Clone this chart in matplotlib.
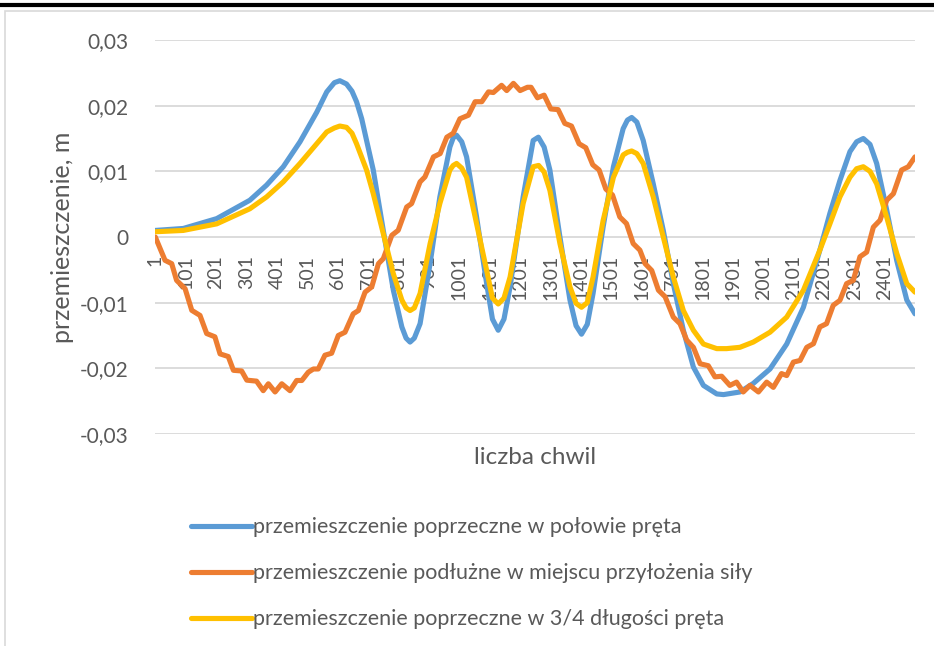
import matplotlib.pyplot as plt
from matplotlib.lines import Line2D
from matplotlib.patches import Rectangle

plt.rcParams["font.family"] = ["Lato", "DejaVu Sans"]
plt.rcParams["axes.unicode_minus"] = False

# numer chwili (kategoria) i przemieszczenie [m]
blue_x = [1, 93, 203, 312, 367, 422, 477, 532, 565, 590, 608, 630, 648, 663, 680,
          696, 718, 751, 784, 812, 826, 839, 853, 872, 905, 937, 970, 981, 992,
          1009, 1025, 1058, 1091, 1110, 1129, 1148, 1168, 1211, 1244, 1261, 1280,
          1299, 1332, 1365, 1385, 1403, 1422, 1441, 1474, 1508, 1540, 1554, 1568,
          1585, 1606, 1639, 1672, 1705, 1738, 1771, 1804, 1848, 1870, 1924, 1968,
          2023, 2078, 2133, 2187, 2220, 2253, 2286, 2308, 2330, 2352, 2374, 2407,
          2440, 2473, 2500]
blue_y = [0.0010, 0.0013, 0.0028, 0.0056, 0.0079, 0.0107, 0.0145, 0.0190, 0.0221,
          0.0235, 0.0238, 0.0233, 0.0222, 0.0206, 0.0180, 0.0147, 0.0102, 0.0010,
          -0.0081, -0.0137, -0.0154, -0.0160, -0.0154, -0.0132, -0.0040, 0.0061,
          0.0137, 0.0151, 0.0155, 0.0145, 0.0122, 0.0030, -0.0071, -0.0125,
          -0.0142, -0.0125, -0.0076, 0.0061, 0.0147, 0.0152, 0.0137, 0.0102,
          0.0000, -0.0096, -0.0135, -0.0148, -0.0133, -0.0086, 0.0015, 0.0107,
          0.0165, 0.0178, 0.0182, 0.0175, 0.0147, 0.0081, 0.0010, -0.0071,
          -0.0142, -0.0198, -0.0226, -0.0239, -0.0240, -0.0236, -0.0223, -0.0201,
          -0.0163, -0.0107, -0.0020, 0.0036, 0.0086, 0.0130, 0.0145, 0.0150,
          0.0141, 0.0112, 0.0041, -0.0036, -0.0096, -0.0117]

orange_x = [1, 33, 55, 71, 99, 121, 148, 170, 197, 214, 241, 258, 285, 302, 334,
            356, 373, 395, 417, 444, 466, 483, 504, 521, 537, 559, 581, 603, 625,
            652, 669, 691, 713, 735, 751, 779, 800, 828, 844, 872, 888, 916, 938,
            960, 981, 1003, 1031, 1053, 1075, 1097, 1113, 1140, 1157, 1179, 1201,
            1225, 1237, 1258, 1280, 1302, 1326, 1348, 1370, 1395, 1417, 1440, 1461,
            1483, 1505, 1529, 1551, 1573, 1595, 1612, 1634, 1656, 1678, 1705, 1727,
            1749, 1771, 1793, 1820, 1842, 1864, 1891, 1913, 1935, 1957, 1985, 2012,
            2034, 2061, 2078, 2100, 2122, 2144, 2166, 2187, 2209, 2231, 2253, 2275,
            2297, 2319, 2341, 2363, 2385, 2407, 2429, 2456, 2478, 2500]
orange_y = [0.0, -0.00355, -0.00406, -0.0066, -0.00787, -0.01117, -0.01194,
            -0.0147, -0.0152, -0.0178, -0.0182, -0.0203, -0.0204, -0.0218,
            -0.02195, -0.0234, -0.02235, -0.0236, -0.02235, -0.0234, -0.02185,
            -0.02185, -0.0206, -0.0201, -0.0201, -0.0180, -0.0177, -0.0150,
            -0.0145, -0.0117, -0.0112, -0.0084, -0.0076, -0.00406, -0.0033,
            0.00026, 0.00102, 0.00457, 0.00508, 0.0084, 0.00915, 0.0122, 0.0127,
            0.0152, 0.0158, 0.0180, 0.01855, 0.0206, 0.0206, 0.0221, 0.0220,
            0.0231, 0.0223, 0.0234, 0.0223, 0.0228, 0.0228, 0.0212, 0.0216,
            0.0195, 0.0194, 0.0173, 0.0169, 0.0142, 0.0136, 0.0110, 0.0102,
            0.0073, 0.0064, 0.00305, 0.00204, -0.0010, -0.0020, -0.00405, -0.0051,
            -0.0081, -0.0091, -0.0122, -0.0132, -0.0157, -0.0168, -0.0193, -0.0196,
            -0.0213, -0.0212, -0.0226, -0.0221, -0.0236, -0.0226, -0.0236, -0.0221,
            -0.0229, -0.0208, -0.0211, -0.01905, -0.0188, -0.0168, -0.01625,
            -0.0137, -0.0132, -0.0104, -0.00965, -0.0071, -0.0066, -0.0030,
            -0.0023, 0.0015, 0.00255, 0.0056, 0.0066, 0.0102, 0.0107, 0.0122]

yellow_x = [1, 93, 203, 312, 367, 422, 477, 532, 565, 590, 608, 630, 648, 663,
            696, 718, 751, 784, 812, 826, 839, 853, 872, 905, 937, 970, 981, 992,
            1009, 1025, 1058, 1091, 1110, 1129, 1148, 1168, 1211, 1244, 1262, 1280,
            1299, 1332, 1365, 1385, 1403, 1422, 1441, 1474, 1508, 1540, 1554, 1568,
            1585, 1606, 1639, 1672, 1705, 1738, 1771, 1804, 1848, 1880, 1924, 1968,
            2023, 2078, 2133, 2187, 2220, 2253, 2286, 2308, 2330, 2352, 2374, 2407,
            2440, 2473, 2500]
yellow_y = [0.0008, 0.0010, 0.0020, 0.0043, 0.0061, 0.0084, 0.0112, 0.0142,
            0.0160, 0.0166, 0.0169, 0.0167, 0.0158, 0.0142, 0.0102, 0.0066,
            0.0005, -0.0056, -0.0096, -0.0108, -0.0112, -0.0108, -0.0086, -0.0010,
            0.0051, 0.0102, 0.0109, 0.0112, 0.0105, 0.0091, 0.0020, -0.0051,
            -0.0093, -0.0102, -0.0093, -0.0061, 0.0051, 0.0107, 0.0109, 0.0099,
            0.0071, -0.0010, -0.0076, -0.0101, -0.0107, -0.0100, -0.0061, 0.0025,
            0.0091, 0.0125, 0.0129, 0.0131, 0.0127, 0.0112, 0.0061, 0.0000,
            -0.0061, -0.0112, -0.0142, -0.0163, -0.0170, -0.0170, -0.0168, -0.0160,
            -0.0145, -0.0122, -0.0081, -0.0020, 0.0020, 0.0061, 0.0091, 0.0104,
            0.0107, 0.0100, 0.0081, 0.0030, -0.0025, -0.0071, -0.0084]

labels = [
    "przemieszczenie poprzeczne w połowie pręta",
    "przemieszczenie podłużne w miejscu przyłożenia siły",
    "przemieszczenie poprzeczne w 3/4 długości pręta",
]
colors = ["#5B9BD5", "#ED7D31", "#FFC000"]

y_ticks = [-0.03, -0.02, -0.01, 0.0, 0.01, 0.02, 0.03]
x_ticks = list(range(1, 2501, 100))

text_color = "#595959"
W, H = 934, 646

fig = plt.figure(figsize=(W / 100, H / 100), dpi=100)
ax = fig.add_axes([155.15 / W, 1 - 434 / H, 760 / W, 394 / H])

series = [(blue_x, blue_y), (orange_x, orange_y), (yellow_x, yellow_y)]
handles = []
for (xs, ys), c, lab in zip(series, colors, labels):
    h, = ax.plot(xs, ys, color=c, lw=3.7, label=lab,
                 solid_joinstyle="round", solid_capstyle="round")
    handles.append(h)

ax.set_xlim(0.5, 2500.5)
ax.set_ylim(-0.03, 0.03)

for s in ["top", "right", "left"]:
    ax.spines[s].set_visible(False)
# etykiety osi X przy linii zera
ax.spines["bottom"].set_position(("data", 0))
ax.spines["bottom"].set_color("none")

ax.set_yticks(y_ticks)
ax.set_yticklabels(["0" if v == 0 else f"{v:.2f}".replace(".", ",") for v in y_ticks])
ax.yaxis.grid(True, color="#d9d9d9", lw=1.3)
ax.set_axisbelow(True)

ax.set_xticks(x_ticks)
ax.set_xticklabels([str(v) for v in x_ticks])

ax.tick_params(axis="x", length=0, pad=13, labelsize=14, labelcolor=text_color,
               labelrotation=90)
ax.tick_params(axis="y", length=0, pad=19, labelsize=15, labelcolor=text_color)

fig.text(535 / W, 1 - 458 / H, "liczba chwil", ha="center", va="center",
         fontsize=17.5, color=text_color)
fig.text(62 / W, 1 - 237 / H, "przemieszczenie, m", ha="center", va="center",
         rotation=90, fontsize=18, color=text_color)

fig.legend(handles=handles, loc="upper left", bbox_to_anchor=(172 / W, 1 - 498 / H),
           frameon=False, fontsize=15.5, handlelength=2.8, handletextpad=0.05,
           labelspacing=1.21, labelcolor=text_color)

# ramka wykresu
fig.add_artist(Line2D([0, 1], [1 - 5 / H, 1 - 5 / H], transform=fig.transFigure,
                      color="black", lw=3))
fig.add_artist(Rectangle((5 / W, -0.1), 1.2, 1.1 - 11 / H, transform=fig.transFigure,
                         fill=False, edgecolor="#d9d9d9", lw=1.2))

fig.savefig("out.png", dpi=100)
